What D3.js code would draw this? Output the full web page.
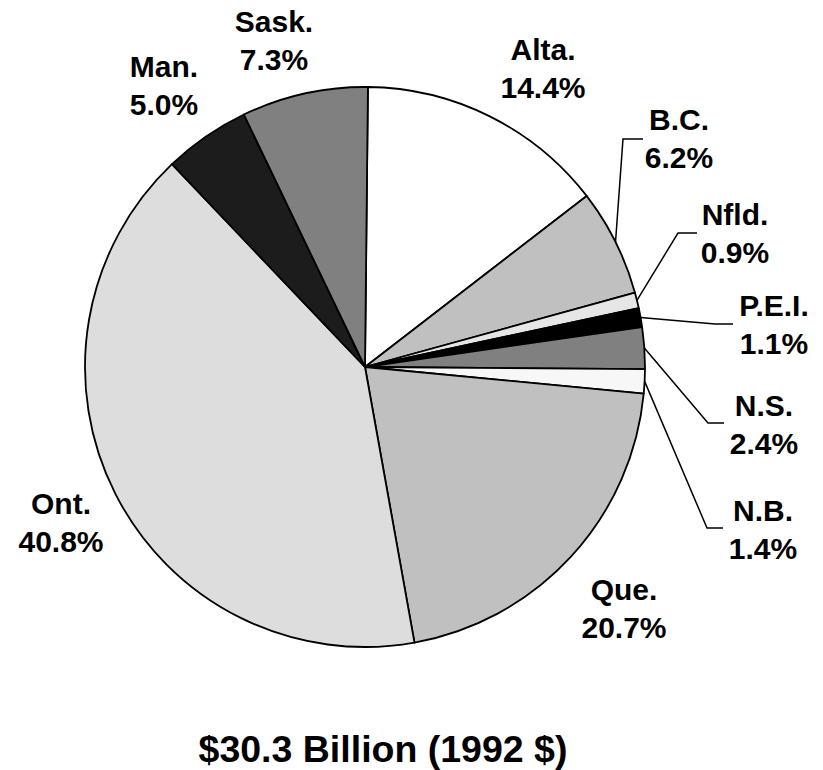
<!DOCTYPE html>
<meta charset="utf-8">
<html>
<head>
    <title>Provincial shares pie</title>
    <style>
        body { margin: 0; background: #fff; }
        text { font-family: "Liberation Sans", Arial, sans-serif; font-weight: bold; fill: #000; }
    </style>
</head>
<body>
    <script src="https://cdnjs.cloudflare.com/ajax/libs/d3/7.8.5/d3.min.js"></script>
    <script>
        // data, clockwise from 12 o'clock
        var provinces = ["Alta.", "B.C.", "Nfld.", "P.E.I.", "N.S.", "N.B.", "Que.", "Ont.", "Man.", "Sask."];
        var shares = [14.4, 6.2, 0.9, 1.1, 2.4, 1.4, 20.7, 40.8, 5.0, 7.3];
        var fills = ["#ffffff", "#c0c0c0", "#e6e6e6", "#000000", "#808080", "#f7f7f7", "#c0c0c0", "#dddddd", "#1c1c1c", "#808080"];
        var title = "$30.3 Billion (1992 $)";

        // label layout (center x, first baseline y)
        var labelPos = {
            "Alta.": [543, 60], "B.C.": [679, 130], "Nfld.": [735, 225], "P.E.I.": [774, 316],
            "N.S.": [764, 416], "N.B.": [763, 521], "Que.": [624, 600], "Ont.": [61, 514],
            "Man.": [164, 77], "Sask.": [274, 32]
        };
        // leader lines: elbow and end for the small slices
        var leaders = {
            "B.C.": [[623, 139], [643, 139]],
            "Nfld.": [[678, 233], [697, 233]],
            "P.E.I.": [[715, 324], [733, 324]],
            "N.S.": [[708, 423], [724, 423]],
            "N.B.": [[707, 528], [723, 528]]
        };

        var width = 823, height = 770;
        var cx = 365, cy = 367, r = 280;
        var a0 = 0.6 * Math.PI / 180;

        var svg = d3.select("body").append("svg")
            .attr("width", width)
            .attr("height", height);

        var pie = d3.pie().sort(null).startAngle(a0).endAngle(a0 + 2 * Math.PI);
        var arcs = pie(shares);
        var arc = d3.arc().innerRadius(0).outerRadius(r);

        var g = svg.append("g").attr("transform", "translate(" + cx + "," + cy + ")");

        g.selectAll("path")
            .data(arcs)
            .enter()
            .append("path")
            .attr("d", arc)
            .attr("fill", function (d, i) { return fills[i]; })
            .attr("stroke", "#000")
            .attr("stroke-width", 1.8)
            .attr("stroke-linejoin", "round");

        // leader lines
        arcs.forEach(function (d, i) {
            var name = provinces[i];
            if (!leaders[name]) return;
            var m = (d.startAngle + d.endAngle) / 2;
            var p0 = [cx + r * Math.sin(m), cy - r * Math.cos(m)];
            var pts = [p0].concat(leaders[name]);
            svg.append("path")
                .attr("d", d3.line()(pts))
                .attr("fill", "none")
                .attr("stroke", "#000")
                .attr("stroke-width", 1.5);
        });

        // labels
        provinces.forEach(function (name, i) {
            var p = labelPos[name];
            var t = svg.append("text")
                .attr("text-anchor", "middle")
                .attr("font-size", 30);
            t.append("tspan").attr("x", p[0]).attr("y", p[1]).text(name);
            t.append("tspan").attr("x", p[0]).attr("y", p[1] + 38).text(d3.format(".1f")(shares[i]) + "%");
        });

        svg.append("text")
            .attr("x", 383)
            .attr("y", 762)
            .attr("text-anchor", "middle")
            .attr("font-size", 37.5)
            .text(title);
    </script>
</body>
</html>
